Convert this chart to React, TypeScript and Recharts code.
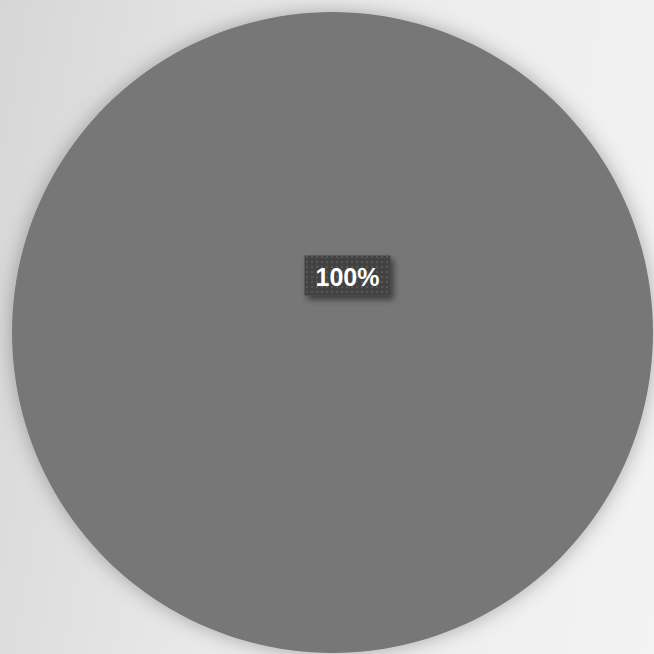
import React from "react";
import { PieChart, Pie, Cell } from "recharts";

const categories = ["Total"];
const values = [100];
const colors = ["#777777"];

const data = categories.map((name, i) => ({ name, value: values[i] }));

const renderLabel = (props: any) => {
  const { cx, cy, percent } = props;
  const x = cx + 15;
  const y = cy - 57;
  const w = 86;
  const h = 40;
  return (
    <g>
      <rect x={x - w / 2} y={y - h / 2} width={w} height={h} fill="#424242" filter="url(#labelShadow)" />
      <rect x={x - w / 2} y={y - h / 2} width={w} height={h} fill="url(#dots)" />
      <text
        x={x}
        y={y + 1}
        textAnchor="middle"
        dominantBaseline="central"
        fill="#ffffff"
        style={{ fontFamily: "Arial, 'Liberation Sans', sans-serif", fontWeight: 700, fontSize: 25 }}
      >
        {`${Math.round(percent * 100)}%`}
      </text>
    </g>
  );
};

export default function App() {
  return (
    <div
      style={{
        position: "absolute",
        left: 0,
        top: 0,
        width: 654,
        height: 654,
        background: "linear-gradient(100deg, #d6d6d6 0%, #ebebeb 45%, #f3f3f3 100%)",
        overflow: "hidden",
      }}
    >
      <PieChart width={654} height={654} margin={{ top: 0, right: 0, bottom: 0, left: 0 }}>
        <defs>
          <filter id="pieShadow" x="-20%" y="-20%" width="140%" height="140%">
            <feDropShadow dx="0" dy="0" stdDeviation="10" floodColor="#000" floodOpacity="0.3" />
          </filter>
          <filter id="labelShadow" x="-30%" y="-30%" width="160%" height="180%">
            <feDropShadow dx="3" dy="4" stdDeviation="3" floodColor="#000" floodOpacity="0.5" />
          </filter>
          <pattern id="dots" width="5" height="5" patternUnits="userSpaceOnUse">
            <rect x="1" y="1" width="2" height="2" fill="#575757" />
          </pattern>
        </defs>
        <Pie
          data={data}
          dataKey="value"
          cx={332.5}
          cy={332.5}
          outerRadius={320.5}
          startAngle={90}
          endAngle={-270}
          stroke="none"
          labelLine={false}
          label={renderLabel}
          isAnimationActive={false}
          style={{ filter: "url(#pieShadow)" }}
        >
          {data.map((entry, i) => (
            <Cell key={entry.name} fill={colors[i]} />
          ))}
        </Pie>
      </PieChart>
    </div>
  );
}
